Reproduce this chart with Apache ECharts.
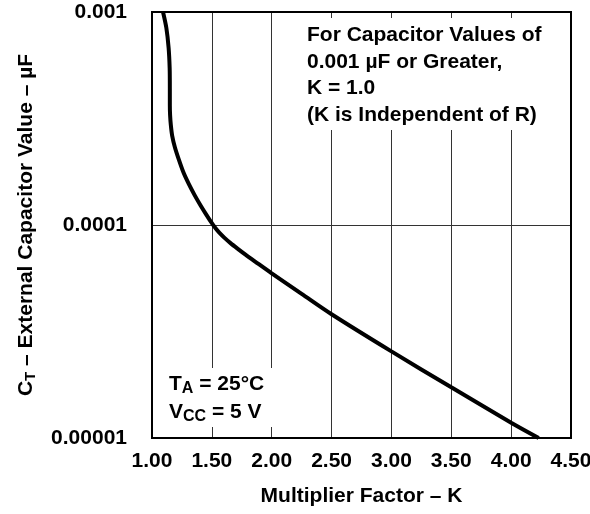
<!DOCTYPE html>
<html>
<head>
<meta charset="utf-8">
<script src="https://cdn.jsdelivr.net/npm/echarts@6/dist/echarts.min.js"></script>
<style>
  html, body { margin: 0; padding: 0; background: #fff; }
  #chart { width: 590px; height: 514px; }
</style>
</head>
<body>
<div id="chart"></div>
<script>
// curve: multiplier K vs capacitor value (uF)
const kValues = [1.092, 1.12, 1.139, 1.1475, 1.149, 1.149, 1.1513, 1.1575, 1.1683, 1.1917, 1.225, 1.264, 1.306, 1.356, 1.406, 1.456, 1.5, 1.531, 1.564, 1.606, 1.656, 1.714, 1.781, 1.864, 2.0, 2.25, 2.5, 3.0, 3.5, 4.0, 4.23]
const capValues = [0.001, 0.000841, 0.000677, 0.000545, 0.000439, 0.000365, 0.000327, 0.000294, 0.000263, 0.000231, 0.000202, 0.0001757, 0.0001563, 0.0001381, 0.0001235, 0.0001113, 0.000102, 0.0000965, 0.0000918, 0.000087, 0.0000822, 0.0000775, 0.0000726, 0.0000672, 0.0000593, 0.0000475, 0.0000381, 0.0000255, 0.0000173, 0.0000118, 0.00001]
const yTickLabels = ['0.00001', '0.0001', '0.001']

const font = 'Liberation Sans, Arial, sans-serif'
const chart = echarts.init(document.getElementById('chart'))

const option = {
  animation: false,
  backgroundColor: '#fff',
  grid: {
    left: 152, right: 19, top: 12, bottom: 76,
    outerBoundsMode: 'none',
    containLabel: false,
    show: true, borderColor: '#000', borderWidth: 2, z: 5
  },
  xAxis: {
    type: 'value',
    min: 1, max: 4.5, interval: 0.5,
    name: 'Multiplier Factor – K',
    nameLocation: 'middle',
    nameGap: 48,
    nameTextStyle: { fontFamily: font, fontWeight: 'bold', fontSize: 21, color: '#000' },
    axisLine: { show: false },
    axisTick: { show: false },
    axisLabel: {
      margin: 13, fontFamily: font, fontWeight: 'bold', fontSize: 21, color: '#000',
      formatter: (v) => v.toFixed(2)
    },
    splitLine: { show: true, lineStyle: { color: '#333', width: 1 } }
  },
  yAxis: {
    type: 'log',
    logBase: 10,
    min: 0.00001, max: 0.001,
    name: '{m|C}{s|T}{m| – External Capacitor Value – µF}',
    nameLocation: 'middle',
    nameGap: 114,
    nameRotate: 90,
    nameTextStyle: {
      color: '#000',
      rich: {
        m: { fontFamily: font, fontWeight: 'bold', fontSize: 21, color: '#000', lineHeight: 24 },
        s: { fontFamily: font, fontWeight: 'bold', fontSize: 15, color: '#000', lineHeight: 24, padding: [10, 0, 0, 0] }
      }
    },
    axisLine: { show: false },
    axisTick: { show: false },
    minorTick: { show: false },
    axisLabel: {
      margin: 25, fontFamily: font, fontWeight: 'bold', fontSize: 21, color: '#000',
      formatter: (v) => yTickLabels[Math.round(Math.log10(v)) + 5]
    },
    splitLine: { show: true, lineStyle: { color: '#333', width: 1 } }
  },
  graphic: [
    // note box top right
    { type: 'rect', z: 50, shape: { x: 300, y: 18, width: 255, height: 112 }, style: { fill: '#fff' } },
    {
      type: 'text', z: 51, left: 307, top: 22,
      style: {
        text: 'For Capacitor Values of\n0.001 µF or Greater,\nK = 1.0\n(K is Independent of R)',
        font: 'bold 21px ' + font,
        lineHeight: 26.5,
        fill: '#000'
      }
    },
    // conditions box bottom left
    { type: 'rect', z: 50, shape: { x: 166, y: 368, width: 112, height: 59 }, style: { fill: '#fff' } },
    {
      type: 'text', z: 51, left: 169, top: 371,
      style: {
        text: '{m|T}{s|A}{m| = 25°C}\n{m|V}{s|CC}{m| = 5 V}',
        fill: '#000',
        rich: {
          m: { font: 'bold 21px ' + font, fill: '#000', lineHeight: 28 },
          s: { font: 'bold 16px ' + font, fill: '#000', lineHeight: 28, padding: [10, 0, 0, 0] }
        }
      }
    }
  ],
  series: [
    {
      type: 'line',
      data: kValues.map((k, i) => [k, capValues[i]]),
      showSymbol: false,
      smooth: 0.3,
      lineStyle: { color: '#000', width: 4 },
      z: 3
    }
  ]
}

chart.setOption(option)
window.addEventListener('resize', () => {
  chart.resize()
})
</script>
</body>
</html>
